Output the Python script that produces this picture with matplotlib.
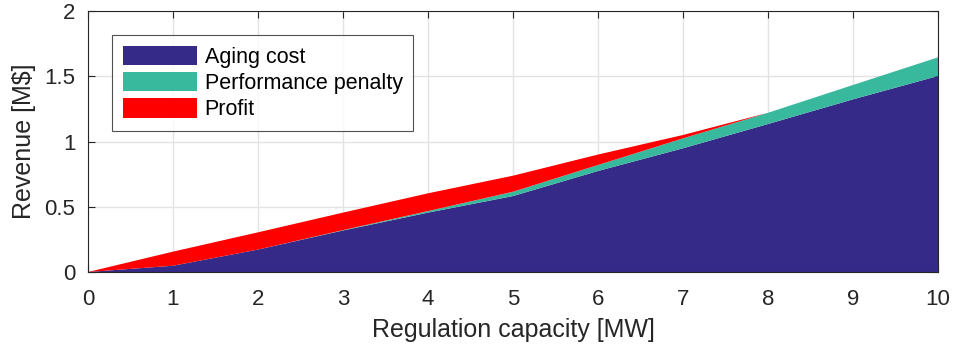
import matplotlib.pyplot as plt
from matplotlib.patches import Patch

plt.rcParams["font.family"] = ["Liberation Sans", "DejaVu Sans"]

# regulation capacity [MW]
capacity = [0, 1, 2, 3, 4, 5, 6, 7, 8, 9, 10]
# stacked revenue components [M$]
aging_cost = [0, 0.048, 0.172, 0.318, 0.455, 0.582, 0.774, 0.948, 1.134, 1.323, 1.502]
perf_penalty = [0, 0, 0, 0.003, 0.012, 0.033, 0.046, 0.076, 0.086, 0.110, 0.143]
profit = [0, 0.108, 0.132, 0.134, 0.136, 0.123, 0.080, 0.026, 0, 0, 0]

colors = ["#352a87", "#38b99e", "#ff0000"]
names = ["Aging cost", "Performance penalty", "Profit"]

fig = plt.figure(figsize=(9.54, 3.53), dpi=100)
ax = fig.add_axes([88 / 954, 81 / 353, 850 / 954, 261 / 353])

ax.stackplot(capacity, aging_cost, perf_penalty, profit, colors=colors,
             linewidth=0, zorder=2)

ax.set_xlim(0, 10)
ax.set_ylim(0, 2)
ax.set_xticks(range(0, 11))
ax.set_yticks([0, 0.5, 1, 1.5, 2])
ax.set_yticklabels(["0", "0.5", "1", "1.5", "2"])
ax.grid(True, color="#e3e3e3", linewidth=1, zorder=0)
ax.set_axisbelow(True)
ax.tick_params(direction="in", top=True, right=True, labelsize=16,
               length=5, color="#262626", labelcolor="#262626")
ax.tick_params(axis="x", pad=12)
ax.tick_params(axis="y", pad=9)
for s in ax.spines.values():
    s.set_color("#262626")
    s.set_linewidth(0.8)

ax.set_xlabel("Regulation capacity [MW]", fontsize=18, color="#262626",
              labelpad=6)
ax.set_ylabel(r"Revenue [M\$]", fontsize=18, color="#262626", labelpad=6)

handles = [Patch(facecolor=c, edgecolor="none") for c in colors]
leg = ax.legend(handles, names, loc="upper left", bbox_to_anchor=(0.028, 0.908),
                fontsize=15.5, frameon=True, fancybox=False, handlelength=3.45,
                handleheight=1.0, handletextpad=0.36, labelspacing=0.2,
                borderpad=0.5, borderaxespad=0)
leg.get_frame().set_edgecolor("#262626")
leg.get_frame().set_linewidth(0.8)

fig.savefig("out.png", dpi=100)
